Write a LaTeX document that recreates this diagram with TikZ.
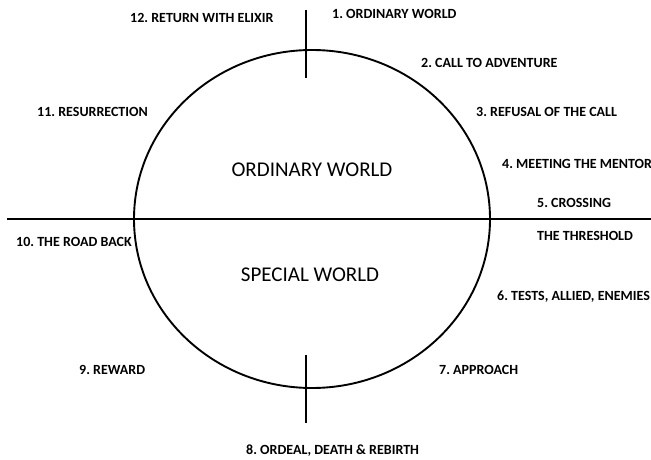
\documentclass[tikz,border=0pt]{standalone}
\usepackage{fontspec}
\setmainfont{Carlito}
\usetikzlibrary{positioning}
\frenchspacing

\begin{document}
\begin{tikzpicture}[
  x=1pt, y=1pt,
  stage/.style={anchor=west, inner sep=0pt, font=\bfseries\fontsize{14}{16}\selectfont},
  world/.style={inner sep=0pt, font=\fontsize{21}{24}\selectfont},
  rim/.style={line width=1.9pt}
]
  \useasboundingbox (0,0) rectangle (651,459);

  % Circle and the two worlds
  \coordinate (c) at (312,240);
  \draw[rim] (c) ellipse [x radius=178, y radius=169];
  \coordinate (hl) at (7,240);
  \coordinate (hr) at (651,240);
  \draw[rim] (hl) -- (hr);

  % Ticks at top and bottom
  \coordinate (tt) at (306,449);
  \coordinate (tb) at (306,381);
  \coordinate (bt) at (306,104);
  \coordinate (bb) at (306,36);
  \draw[rim] (tt) -- (tb);
  \draw[rim] (bt) -- (bb);

  \node[world] (ow) at (312,289) {ORDINARY WORLD};
  \node[world] (sw) at (310,184) {SPECIAL WORLD};

  % Stages, clockwise
  \node[stage] (s1)  at (332,445) {1. ORDINARY WORLD};
  \node[stage] (s2)  at (421,396) {2. CALL TO ADVENTURE};
  \node[stage] (s3)  at (476,347) {3. REFUSAL OF THE CALL};
  \node[stage] (s4)  at (502,295) {4. MEETING THE MENTOR};
  \node[stage] (s5)  at (537,256) {5. CROSSING};
  \node[stage] (s5b) at (537,223) {THE THRESHOLD};
  \node[stage] (s6)  at (497,162) {6. TESTS, ALLIED, ENEMIES};
  \node[stage] (s7)  at (439,89)  {7. APPROACH};
  \node[stage] (s8)  at (246,8)   {8. ORDEAL, DEATH \& REBIRTH};
  \node[stage] (s9)  at (79,89)   {9. REWARD};
  \node[stage] (s10) at (16,217)  {10. THE ROAD BACK};
  \node[stage] (s11) at (37,347)  {11. RESURRECTION};
  \node[stage] (s12) at (130,441) {12. RETURN WITH ELIXIR};
\end{tikzpicture}
\end{document}
